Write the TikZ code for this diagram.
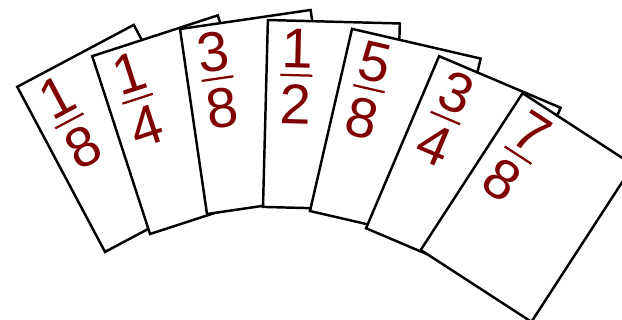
\documentclass[tikz,border=0pt]{standalone}
\usepackage{fontspec}
\setmainfont{Liberation Sans}
\definecolor{fracred}{RGB}{128,0,0}

\begin{document}
\begin{tikzpicture}[
    x=0.02cm, y=0.02cm,
    card/.style={rectangle, draw=black, fill=white, line width=1.4pt, minimum width=2.64cm, minimum height=3.74cm, inner sep=0pt},
    digit/.style={text=fracred, inner sep=0pt, font=\fontsize{32}{32}\selectfont},
    fracbar/.style={rectangle, fill=fracred, inner sep=0pt, minimum width=0.64cm, minimum height=0.045cm}
]
\useasboundingbox (0,0) rectangle (622,320);

% Cards, back to front
\foreach \cx/\cy/\ang/\numer/\denom [count=\i] in {119.4/181.6/28/1/8, 183.9/195.3/18/1/4, 258.8/208/8.3/3/8, 331.4/204.8/-1.5/1/2, 395.3/185.2/-13/5/8, 463.3/152/-23/3/4, 527/112.5/-33/7/8}{
  \begin{scope}[shift={(\cx,\cy)}, rotate=\ang, transform shape]
    \node[card] (card\i) at (0,0) {};
    % Fraction
    \node[fracbar] (bar\i) at (-36,39) {};
    \node[digit, anchor=south] (num\i) at (-36,46) {\numer};
    \node[digit, anchor=north] (den\i) at (-36,29.5) {\denom};
  \end{scope}
}

\end{tikzpicture}
\end{document}
